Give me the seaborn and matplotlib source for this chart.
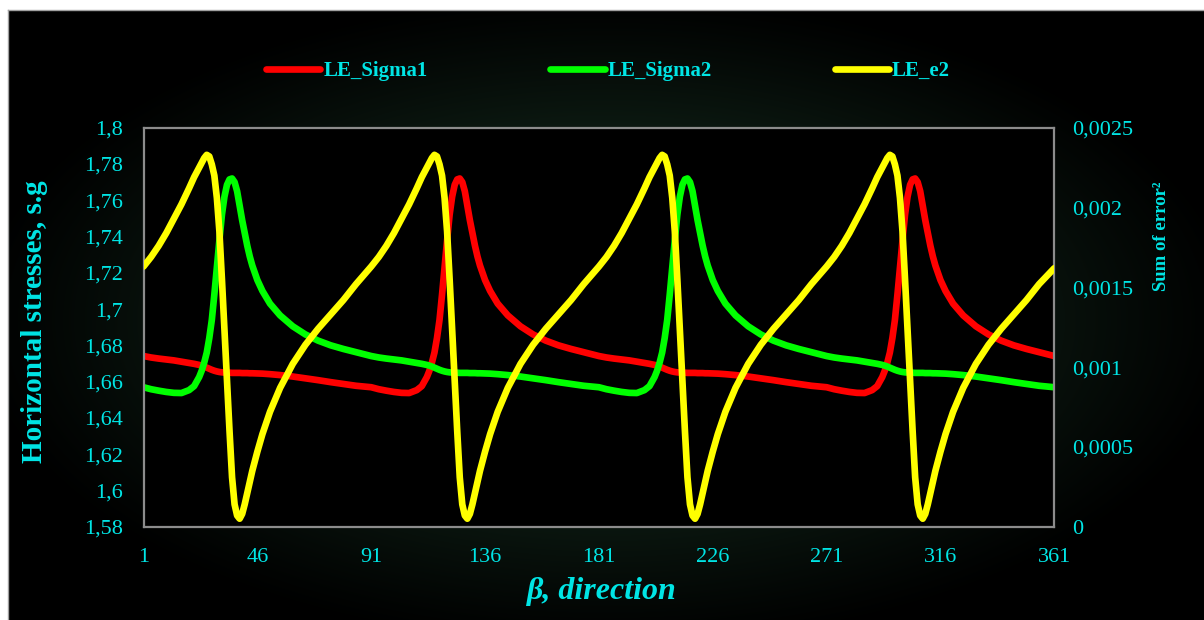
import numpy as np
import pandas as pd
import matplotlib
matplotlib.use("Agg")
import matplotlib.pyplot as plt
from matplotlib.ticker import FixedLocator
import seaborn as sns

# Direction beta (degrees)
beta = [
    1, 4, 7, 10, 13, 16, 19, 21, 23, 24, 25, 26, 27, 28, 29, 30, 31, 32, 33, 34,
    35, 36, 37, 38, 39, 40, 41, 42, 43, 44, 46, 48, 51, 55, 60, 65, 70, 75, 80, 85,
    91, 94, 97, 100, 103, 106, 109, 111, 113, 114, 115, 116, 117, 118, 119, 120, 121, 122, 123, 124,
    125, 126, 127, 128, 129, 130, 131, 132, 133, 134, 136, 138, 141, 145, 150, 155, 160, 165, 170, 175,
    181, 184, 187, 190, 193, 196, 199, 201, 203, 204, 205, 206, 207, 208, 209, 210, 211, 212, 213, 214,
    215, 216, 217, 218, 219, 220, 221, 222, 223, 224, 226, 228, 231, 235, 240, 245, 250, 255, 260, 265,
    271, 274, 277, 280, 283, 286, 289, 291, 293, 294, 295, 296, 297, 298, 299, 300, 301, 302, 303, 304,
    305, 306, 307, 308, 309, 310, 311, 312, 313, 314, 316, 318, 321, 325, 330, 335, 340, 345, 350, 355,
    361,
]

# Horizontal stress LE_Sigma1 (s.g)
le_sigma1 = [
    1.6741, 1.6733, 1.6727, 1.6722, 1.6717, 1.6710, 1.6703, 1.6698, 1.6692, 1.6688,
    1.6683, 1.6677, 1.6671, 1.6665, 1.6660, 1.6656, 1.6653, 1.6651, 1.6650, 1.6649,
    1.6649, 1.6648, 1.6648, 1.6648, 1.6648, 1.6647, 1.6647, 1.6647, 1.6646, 1.6646,
    1.6645, 1.6644, 1.6641, 1.6636, 1.6628, 1.6618, 1.6608, 1.6597, 1.6587, 1.6577,
    1.6569, 1.6558, 1.6550, 1.6543, 1.6538, 1.6537, 1.6553, 1.6575, 1.6625, 1.6660,
    1.6705, 1.6760, 1.6840, 1.6940, 1.7080, 1.7230, 1.7380, 1.7520, 1.7620, 1.7685,
    1.7715, 1.7720, 1.7700, 1.7650, 1.7570, 1.7490, 1.7420, 1.7350, 1.7290, 1.7240,
    1.7160, 1.7100, 1.7030, 1.6965, 1.6905, 1.6860, 1.6826, 1.6800, 1.6780, 1.6762,
    1.6741, 1.6733, 1.6727, 1.6722, 1.6717, 1.6710, 1.6703, 1.6698, 1.6692, 1.6688,
    1.6683, 1.6677, 1.6671, 1.6665, 1.6660, 1.6656, 1.6653, 1.6651, 1.6650, 1.6649,
    1.6649, 1.6648, 1.6648, 1.6648, 1.6648, 1.6647, 1.6647, 1.6647, 1.6646, 1.6646,
    1.6645, 1.6644, 1.6641, 1.6636, 1.6628, 1.6618, 1.6608, 1.6597, 1.6587, 1.6577,
    1.6569, 1.6558, 1.6550, 1.6543, 1.6538, 1.6537, 1.6553, 1.6575, 1.6625, 1.6660,
    1.6705, 1.6760, 1.6840, 1.6940, 1.7080, 1.7230, 1.7380, 1.7520, 1.7620, 1.7685,
    1.7715, 1.7720, 1.7700, 1.7650, 1.7570, 1.7490, 1.7420, 1.7350, 1.7290, 1.7240,
    1.7160, 1.7100, 1.7030, 1.6965, 1.6905, 1.6860, 1.6826, 1.6800, 1.6780, 1.6762,
    1.6741,
]

# Horizontal stress LE_Sigma2 (s.g)
le_sigma2 = [
    1.6569, 1.6558, 1.6550, 1.6543, 1.6538, 1.6537, 1.6553, 1.6575, 1.6625, 1.6660,
    1.6705, 1.6760, 1.6840, 1.6940, 1.7080, 1.7230, 1.7380, 1.7520, 1.7620, 1.7685,
    1.7715, 1.7720, 1.7700, 1.7650, 1.7570, 1.7490, 1.7420, 1.7350, 1.7290, 1.7240,
    1.7160, 1.7100, 1.7030, 1.6965, 1.6905, 1.6860, 1.6826, 1.6800, 1.6780, 1.6762,
    1.6741, 1.6733, 1.6727, 1.6722, 1.6717, 1.6710, 1.6703, 1.6698, 1.6692, 1.6688,
    1.6683, 1.6677, 1.6671, 1.6665, 1.6660, 1.6656, 1.6653, 1.6651, 1.6650, 1.6649,
    1.6649, 1.6648, 1.6648, 1.6648, 1.6648, 1.6647, 1.6647, 1.6647, 1.6646, 1.6646,
    1.6645, 1.6644, 1.6641, 1.6636, 1.6628, 1.6618, 1.6608, 1.6597, 1.6587, 1.6577,
    1.6569, 1.6558, 1.6550, 1.6543, 1.6538, 1.6537, 1.6553, 1.6575, 1.6625, 1.6660,
    1.6705, 1.6760, 1.6840, 1.6940, 1.7080, 1.7230, 1.7380, 1.7520, 1.7620, 1.7685,
    1.7715, 1.7720, 1.7700, 1.7650, 1.7570, 1.7490, 1.7420, 1.7350, 1.7290, 1.7240,
    1.7160, 1.7100, 1.7030, 1.6965, 1.6905, 1.6860, 1.6826, 1.6800, 1.6780, 1.6762,
    1.6741, 1.6733, 1.6727, 1.6722, 1.6717, 1.6710, 1.6703, 1.6698, 1.6692, 1.6688,
    1.6683, 1.6677, 1.6671, 1.6665, 1.6660, 1.6656, 1.6653, 1.6651, 1.6650, 1.6649,
    1.6649, 1.6648, 1.6648, 1.6648, 1.6648, 1.6647, 1.6647, 1.6647, 1.6646, 1.6646,
    1.6645, 1.6644, 1.6641, 1.6636, 1.6628, 1.6618, 1.6608, 1.6597, 1.6587, 1.6577,
    1.6569,
]

# Sum of squared error LE_e2
le_e2 = [
    0.00163, 0.00169, 0.00176, 0.00184, 0.00193, 0.00202, 0.00212, 0.00219, 0.00225, 0.00228,
    0.00231, 0.00233, 0.00232, 0.00227, 0.00220, 0.00206, 0.00185, 0.00155, 0.00123, 0.00092,
    0.00060, 0.00031, 0.00014, 0.00007, 0.00005, 0.00008, 0.00014, 0.00021, 0.00028, 0.00035,
    0.00047, 0.00058, 0.00072, 0.00087, 0.00102, 0.00114, 0.00124, 0.00133, 0.00142, 0.00152,
    0.00163, 0.00169, 0.00176, 0.00184, 0.00193, 0.00202, 0.00212, 0.00219, 0.00225, 0.00228,
    0.00231, 0.00233, 0.00232, 0.00227, 0.00220, 0.00206, 0.00185, 0.00155, 0.00123, 0.00092,
    0.00060, 0.00031, 0.00014, 0.00007, 0.00005, 0.00008, 0.00014, 0.00021, 0.00028, 0.00035,
    0.00047, 0.00058, 0.00072, 0.00087, 0.00102, 0.00114, 0.00124, 0.00133, 0.00142, 0.00152,
    0.00163, 0.00169, 0.00176, 0.00184, 0.00193, 0.00202, 0.00212, 0.00219, 0.00225, 0.00228,
    0.00231, 0.00233, 0.00232, 0.00227, 0.00220, 0.00206, 0.00185, 0.00155, 0.00123, 0.00092,
    0.00060, 0.00031, 0.00014, 0.00007, 0.00005, 0.00008, 0.00014, 0.00021, 0.00028, 0.00035,
    0.00047, 0.00058, 0.00072, 0.00087, 0.00102, 0.00114, 0.00124, 0.00133, 0.00142, 0.00152,
    0.00163, 0.00169, 0.00176, 0.00184, 0.00193, 0.00202, 0.00212, 0.00219, 0.00225, 0.00228,
    0.00231, 0.00233, 0.00232, 0.00227, 0.00220, 0.00206, 0.00185, 0.00155, 0.00123, 0.00092,
    0.00060, 0.00031, 0.00014, 0.00007, 0.00005, 0.00008, 0.00014, 0.00021, 0.00028, 0.00035,
    0.00047, 0.00058, 0.00072, 0.00087, 0.00102, 0.00114, 0.00124, 0.00133, 0.00142, 0.00152,
    0.00162,
]

# Axis ticks and labels
x_ticks = [1, 46, 91, 136, 181, 226, 271, 316, 361]
left_ticks = [1.58, 1.60, 1.62, 1.64, 1.66, 1.68, 1.70, 1.72, 1.74, 1.76, 1.78, 1.80]
left_labels = ["1,58", "1,6", "1,62", "1,64", "1,66", "1,68", "1,7", "1,72", "1,74", "1,76", "1,78", "1,8"]
right_ticks = [0, 0.0005, 0.001, 0.0015, 0.002, 0.0025]
right_labels = ["0", "0,0005", "0,001", "0,0015", "0,002", "0,0025"]

df = pd.DataFrame({"beta": beta, "LE_Sigma1": le_sigma1,
                   "LE_Sigma2": le_sigma2, "LE_e2": le_e2})

sns.set_theme(style="white")
plt.rcParams["font.family"] = ["Liberation Serif", "DejaVu Serif"]

CYAN = "#00e5e5"
W, H = 1204, 620
fig = plt.figure(figsize=(W / 100, H / 100), dpi=100, facecolor="white")

# dark panel with a soft green glow
bx0, by0 = 8, 10
bg = fig.add_axes([bx0 / W, 0, (W - bx0) / W, (H - by0) / H])
yy, xx = np.mgrid[0:H - by0, 0:W - bx0]
r = np.sqrt(((xx + bx0 - 606) / 640.0) ** 2 + ((yy + by0 - 320) / 330.0) ** 2)
glow = np.clip(1 - r, 0, 1) ** 1.1
img = glow[..., None] * (np.array([30, 64, 44]) / 255.0)
bg.imshow(img, aspect="auto", interpolation="bilinear")
bg.set_xticks([])
bg.set_yticks([])
for side, s in bg.spines.items():
    s.set_color("#a0a0a0")
    s.set_linewidth(1.0)
    if side in ("right", "bottom"):
        s.set_visible(False)

# plot area
px0, px1, py0, py1 = 143.5, 1054.3, 127.7, 526.7
ax = fig.add_axes([px0 / W, 1 - py1 / H, (px1 - px0) / W, (py1 - py0) / H])
ax.set_facecolor("black")

line_kw = dict(linewidth=4.8, solid_capstyle="round", solid_joinstyle="round")
sns.lineplot(data=df, x="beta", y="LE_Sigma1", ax=ax, color="#ff0000",
             label="LE_Sigma1", legend=False, **line_kw)
sns.lineplot(data=df, x="beta", y="LE_Sigma2", ax=ax, color="#00ff00",
             label="LE_Sigma2", legend=False, **line_kw)

ax2 = ax.twinx()
sns.lineplot(data=df, x="beta", y="LE_e2", ax=ax2, color="#ffff00",
             label="LE_e2", legend=False, **line_kw)

ax.set_xlim(1, 361)
ax.set_ylim(1.58, 1.80)
ax2.set_ylim(0, 0.0025)

ax.xaxis.set_major_locator(FixedLocator(x_ticks))
ax.set_xticklabels([str(t) for t in x_ticks])
ax.set_yticks(left_ticks)
ax.set_yticklabels(left_labels)
ax2.set_yticks(right_ticks)
ax2.set_yticklabels(right_labels)

ax.tick_params(axis="x", length=0, pad=15, labelsize=16, labelcolor=CYAN)
ax.tick_params(axis="y", length=0, pad=15, labelsize=16, labelcolor=CYAN)
ax2.tick_params(axis="y", length=0, pad=13, labelsize=16, labelcolor=CYAN)
ax.set_xlabel("")
ax.set_ylabel("")
ax2.set_ylabel("")
ax.grid(False)
ax2.grid(False)

for s in ax.spines.values():
    s.set_color("#8c8c8c")
    s.set_linewidth(1.6)
for s in ax2.spines.values():
    s.set_visible(False)

# axis titles
fig.text(35 / W, 1 - 322 / H, "Horizontal stresses, s.g", rotation=90,
         ha="center", va="center", fontsize=21, fontweight="bold", color=CYAN)
fig.text(1162 / W, 1 - 236 / H, "Sum of error²", rotation=90,
         ha="center", va="center", fontsize=13.5, fontweight="bold", color=CYAN)
fig.text(602 / W, 1 - 591 / H, "β, direction", ha="center", va="center",
         fontsize=23, fontweight="bold", fontstyle="italic", color=CYAN)

# legend across the top
h1, l1 = ax.get_legend_handles_labels()
h2, l2 = ax2.get_legend_handles_labels()
leg = fig.legend(h1 + h2, l1 + l2, loc="center", bbox_to_anchor=(608 / W, 1 - 71 / H),
                 ncol=3, frameon=False, handlelength=2.6, handletextpad=0.15,
                 columnspacing=5.9, prop={"size": 15, "weight": "bold"})
for t in leg.get_texts():
    t.set_color(CYAN)

fig.savefig("out.png", dpi=100, facecolor="white")
